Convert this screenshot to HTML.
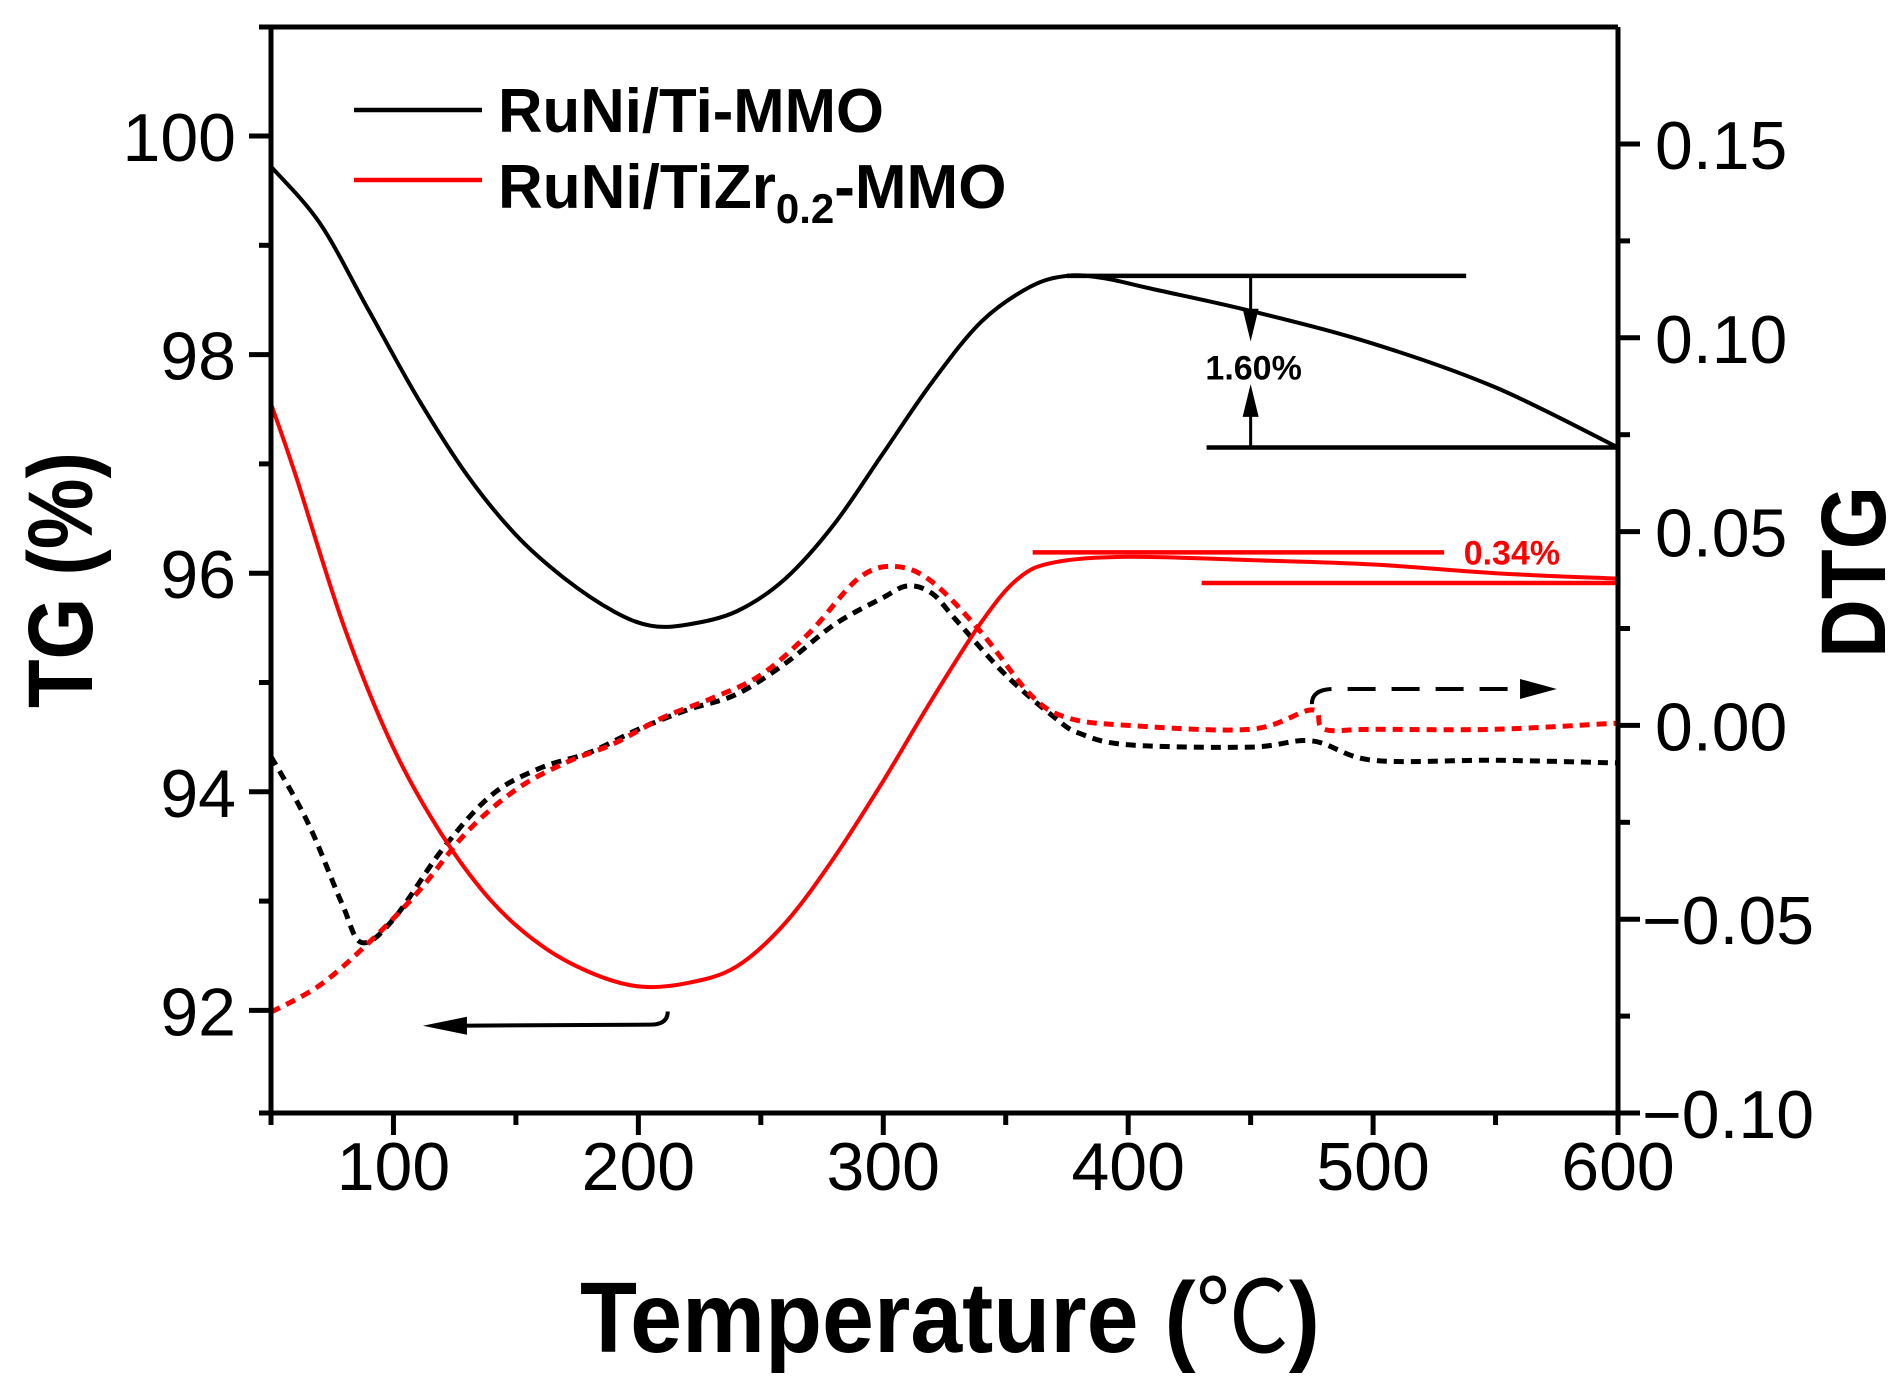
<!DOCTYPE html>
<html><head><meta charset="utf-8"><style>
html,body{margin:0;padding:0;background:#fff;}
svg{display:block;font-family:"Liberation Sans",Arial,sans-serif;}
</style></head><body>
<svg id="chart" width="1904" height="1386" viewBox="0 0 1904 1386" xmlns="http://www.w3.org/2000/svg">
<g id="marks"></g>
<g id="axes"></g>
<text x="580" y="1352" font-size="100" font-weight="bold" textLength="740" lengthAdjust="spacingAndGlyphs">Temperature (<tspan font-family="'Noto Sans CJK SC',sans-serif" font-weight="normal">℃</tspan>)</text>
<text transform="translate(92,580) rotate(-90)" font-size="92" font-weight="bold" x="-128" textLength="256" lengthAdjust="spacingAndGlyphs">TG (%)</text>
<text transform="translate(1885,572) rotate(-90)" font-size="92" font-weight="bold" x="-86" textLength="172" lengthAdjust="spacingAndGlyphs">DTG</text>
<g>
<line x1="354" y1="110" x2="482" y2="110" stroke="#000" stroke-width="4.5"/>
<text x="498" y="132" font-size="62" font-weight="bold" textLength="386" lengthAdjust="spacingAndGlyphs">RuNi/Ti-MMO</text>
<line x1="354" y1="180" x2="482" y2="180" stroke="#f00" stroke-width="4.5"/>
<text x="498" y="208" font-size="62" font-weight="bold">RuNi/TiZr<tspan font-size="42" dy="15">0.2</tspan><tspan dy="-15">-MMO</tspan></text>
</g>
</svg>
<script>
const tgTemps=[50,70,90,110,130,150,170,190,205,220,240,260,280,300,320,340,360,375,390,410,450,500,550,600];
const tgTi=[99.72,99.2,98.4,97.6,96.9,96.35,95.95,95.65,95.52,95.53,95.65,95.95,96.45,97.1,97.75,98.3,98.62,98.72,98.70,98.6,98.4,98.1,97.7,97.15];
const tgRedTemps=[50,60,80,100,120,140,160,180,200,220,240,260,280,300,320,340,355,370,400,450,500,550,600];
const tgTiZr=[97.55,96.9,95.5,94.4,93.6,93.0,92.6,92.35,92.22,92.25,92.4,92.8,93.4,94.1,94.85,95.55,95.95,96.1,96.15,96.12,96.08,96.0,95.95];
const dtgTiTemps=[50,65,79,87,100,120,140,160,180,200,220,240,260,280,300,310,320,330,350,370,380,400,450,475,500,550,600];
const dtgTi=[-0.008,-0.025,-0.046,-0.056,-0.050,-0.032,-0.018,-0.011,-0.007,-0.001,0.004,0.008,0.016,0.026,0.033,0.036,0.034,0.027,0.013,0.002,-0.002,-0.005,-0.0056,-0.004,-0.009,-0.009,-0.0097];
const dtgZrTemps=[50,70,90,110,130,150,170,190,210,230,250,270,290,305,320,340,360,375,400,450,475,480,500,550,600];
const dtgTiZr=[-0.074,-0.067,-0.056,-0.043,-0.0275,-0.0166,-0.0097,-0.0047,0.002,0.007,0.013,0.024,0.038,0.041,0.037,0.024,0.008,0.002,0.0,-0.001,0.004,-0.001,-0.001,-0.001,0.0006];
const xTicks=[100,200,300,400,500,600];
const leftTicks=[92,94,96,98,100];
const rightTicks=[-0.10,-0.05,0.00,0.05,0.10,0.15];
const rightTickLabels=["\u22120.10","\u22120.05","0.00","0.05","0.10","0.15"];

const NS="http://www.w3.org/2000/svg";
const X0=271,X1=1618,YB=1113,YT=27;
function X(t){return X0+(t-50)*(X1-X0)/550;}
function YL(v){return 136+(100-v)*109.3;}
function YR(d){return 1113-(d+0.10)*3876;}
function mk(tag,attrs,parent){const e=document.createElementNS(NS,tag);for(const k in attrs)e.setAttribute(k,attrs[k]);parent.appendChild(e);return e;}
function smooth(pts){let d="M"+pts[0][0].toFixed(1)+","+pts[0][1].toFixed(1);
 for(let i=0;i<pts.length-1;i++){const p0=pts[i-1]||pts[i],p1=pts[i],p2=pts[i+1],p3=pts[i+2]||p2;
  const c1=[p1[0]+(p2[0]-p0[0])/6,p1[1]+(p2[1]-p0[1])/6],c2=[p2[0]-(p3[0]-p1[0])/6,p2[1]-(p3[1]-p1[1])/6];
  d+=" C"+c1[0].toFixed(1)+","+c1[1].toFixed(1)+" "+c2[0].toFixed(1)+","+c2[1].toFixed(1)+" "+p2[0].toFixed(1)+","+p2[1].toFixed(1);}
 return d;}
const marks=document.getElementById('marks');
const axes=document.getElementById('axes');
function series(ts,vs,yf,color,dash,name,w){
 const p=mk('path',{d:smooth(ts.map((t,i)=>[X(t),yf(vs[i])])),fill:'none',stroke:color,'stroke-width':w,'stroke-dasharray':dash||'none','stroke-linejoin':'round'},marks);
 
 
}
series(dtgTiTemps,dtgTi,YR,'#000','10 7','dtg-line-ti',5);
series(dtgZrTemps,dtgTiZr,YR,'#f00','10 7','dtg-line-tizr',5);
series(tgTemps,tgTi,YL,'#000',null,'tg-line-ti',4);
series(tgRedTemps,tgTiZr,YL,'#f00',null,'tg-line-tizr',4);

function ln(x1,y1,x2,y2,c,w,name,dash){const l=mk('line',{x1,y1,x2,y2,stroke:c,'stroke-width':w,'stroke-dasharray':dash||'none'},marks);
 
 }
ln(X(375),YL(98.72),X(538),YL(98.72),'#000',4.5,'loss-upper-line-ti');
ln(X(432),YL(97.15),X(600),YL(97.15),'#000',4.5,'loss-lower-line-ti');
ln(X(450),YL(98.72),X(450),YL(98.3),'#000',3,'loss-arrow-down');
ln(X(450),YL(97.15),X(450),YL(97.55),'#000',3,'loss-arrow-up');
function tri(pts,c,name){const p=mk('polygon',{points:pts.map(q=>q.join(',')).join(' '),fill:c},marks);
 
 }
tri([[X(450)-8,YL(98.42)],[X(450)+8,YL(98.42)],[X(450),YL(98.12)]],'#000','loss-arrowhead-down');
tri([[X(450)-8,YL(97.43)],[X(450)+8,YL(97.43)],[X(450),YL(97.73)]],'#000','loss-arrowhead-up');
const t1=mk('text',{x:X(450)+3,y:YL(97.88)+12,'font-size':34,'font-weight':'bold','text-anchor':'middle'},marks);
t1.textContent='1.60%';


ln(X(361),YL(96.19),X(529),YL(96.19),'#f00',4.5,'loss-upper-line-tizr');
ln(X(430),YL(95.91),X(600),YL(95.91),'#f00',4.5,'loss-lower-line-tizr');
const t2=mk('text',{x:X(537),y:YL(96.19)+12,'font-size':34,'font-weight':'bold',fill:'#f00'},marks);
t2.textContent='0.34%';


const pa=mk('path',{d:`M${X(212)},${YL(91.99)} Q${X(212)},${YL(91.87)} ${X(205)},${YL(91.87)} L${X(125)},${YL(91.86)}`,fill:'none',stroke:'#000','stroke-width':4},marks);


tri([[X(130),YL(91.86)-9],[X(130),YL(91.86)+9],[X(112),YL(91.86)]],'#000','tg-axis-arrowhead');
const pb=mk('path',{d:`M${X(475)},${YR(0.0055)} Q${X(475)},${YR(0.0094)} ${X(484)},${YR(0.0094)} L${X(560)},${YR(0.0094)}`,fill:'none',stroke:'#000','stroke-width':4,'stroke-dasharray':'28 16'},marks);


tri([[X(560),YR(0.0094)-10],[X(560),YR(0.0094)+10],[X(575),YR(0.0094)]],'#000','dtg-axis-arrowhead');

const fr=mk('path',{d:`M${X0-12},${YT} H${X1} M${X0},${YT} V${YB} M${X1},${YT} V${YB+12} M${X0-12},${YB} H${X1+12}`,fill:'none',stroke:'#000','stroke-width':5},axes);


for(let t=50;t<=600;t+=50){const major=t%100===0;
 const l=mk('line',{x1:X(t),y1:YB,x2:X(t),y2:YB+(major?22:12),stroke:'#000','stroke-width':5},axes);
 
 }
xTicks.forEach(t=>{const e=mk('text',{x:X(t),y:1190,'font-size':68,'text-anchor':'middle'},axes);e.textContent=t;
 
 });
for(let v=92;v<=100;v+=1){const major=v%2===0;
 const l=mk('line',{x1:X0-(major?22:12),y1:YL(v),x2:X0,y2:YL(v),stroke:'#000','stroke-width':5},axes);
 
 }
leftTicks.forEach(v=>{const e=mk('text',{x:236,y:YL(v)+25,'font-size':68,'text-anchor':'end'},axes);e.textContent=v;
 
 });
for(let i=0;i<=10;i++){const d=-0.10+i*0.025;const major=i%2===0;
 const l=mk('line',{x1:X1,y1:YR(d),x2:X1+(major?22:12),y2:YR(d),stroke:'#000','stroke-width':5},axes);
 
 }
rightTicks.forEach((d,i)=>{const e=mk('text',{x:1655,y:YR(d)+25,'font-size':68},axes);e.textContent=rightTickLabels[i];
 if(d<0)e.setAttribute('x',1662-20);
 
 });
</script>
</body></html>
